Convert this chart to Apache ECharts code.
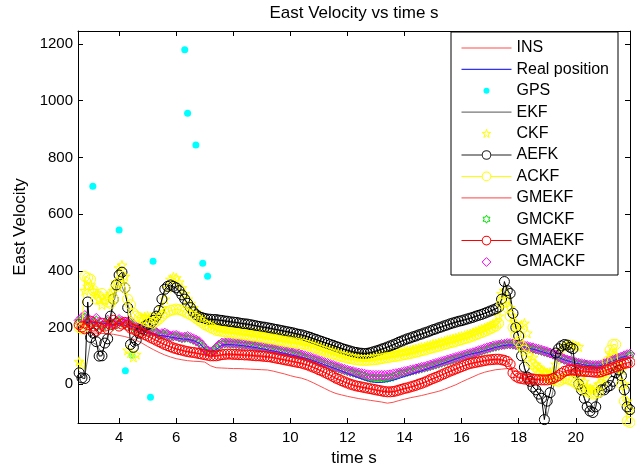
<!DOCTYPE html>
<html><head><meta charset="utf-8">
<script src="https://cdn.jsdelivr.net/npm/echarts@6/dist/echarts.min.js"></script>
<style>html,body{margin:0;padding:0;background:#fff}#c{width:635px;height:465px}</style>
</head><body><div id="c"></div>
<script>
// ---- data ----
// fine time base (0.1 s) for the marker series
const time = [2.6,2.7,2.8,2.9,
  3.0,3.1,3.2,3.3,3.4,3.5,3.6,3.7,3.8,3.9,
  4.0,4.1,4.2,4.3,4.4,4.5,4.6,4.7,4.8,4.9,
  5.0,5.1,5.2,5.3,5.4,5.5,5.6,5.7,5.8,5.9,
  6.0,6.1,6.2,6.3,6.4,6.5,6.6,6.7,6.8,6.9,
  7.0,7.1,7.2,7.3,7.4,7.5,7.6,7.7,7.8,7.9,
  8.0,8.1,8.2,8.3,8.4,8.5,8.6,8.7,8.8,8.9,
  9.0,9.1,9.2,9.3,9.4,9.5,9.6,9.7,9.8,9.9,
  10.0,10.1,10.2,10.3,10.4,10.5,10.6,10.7,10.8,10.9,
  11.0,11.1,11.2,11.3,11.4,11.5,11.6,11.7,11.8,11.9,
  12.0,12.1,12.2,12.3,12.4,12.5,12.6,12.7,12.8,12.9,
  13.0,13.1,13.2,13.3,13.4,13.5,13.6,13.7,13.8,13.9,
  14.0,14.1,14.2,14.3,14.4,14.5,14.6,14.7,14.8,14.9,
  15.0,15.1,15.2,15.3,15.4,15.5,15.6,15.7,15.8,15.9,
  16.0,16.1,16.2,16.3,16.4,16.5,16.6,16.7,16.8,16.9,
  17.0,17.1,17.2,17.3,17.4,17.5,17.6,17.7,17.8,17.9,
  18.0,18.1,18.2,18.3,18.4,18.5,18.6,18.7,18.8,18.9,
  19.0,19.1,19.2,19.3,19.4,19.5,19.6,19.7,19.8,19.9,
  20.0,20.1,20.2,20.3,20.4,20.5,20.6,20.7,20.8,20.9,
  21.0,21.1,21.2,21.3,21.4,21.5,21.6,21.7,21.8,21.9];
// coarse time base (0.2 s) for the plain line series
const timeCoarse = [2.6,2.8,3.0,3.2,3.4,3.6,3.8,4.0,4.2,4.4,
  4.6,4.8,5.0,5.2,5.4,5.6,5.8,6.0,6.2,6.4,
  6.6,6.8,7.0,7.2,7.4,7.6,7.8,8.0,8.2,8.4,
  8.6,8.8,9.0,9.2,9.4,9.6,9.8,10.0,10.2,10.4,
  10.6,10.8,11.0,11.2,11.4,11.6,11.8,12.0,12.2,12.4,
  12.6,12.8,13.0,13.2,13.4,13.6,13.8,14.0,14.2,14.4,
  14.6,14.8,15.0,15.2,15.4,15.6,15.8,16.0,16.2,16.4,
  16.6,16.8,17.0,17.2,17.4,17.6,17.8,18.0,18.2,18.4,
  18.6,18.8,19.0,19.2,19.4,19.6,19.8,20.0,20.2,20.4,
  20.6,20.8,21.0,21.2,21.4,21.6,21.8];
const ins = [185,183,181,180,179,178,176,172,168,162,
  155,145,133,122,112,103,96,90,86,83,
  81,80,78,65,58,57,56,55,55,54,
  53,52,51,50,46,41,36,30,25,21,
  14,5,-5,-15,-25,-33,-38,-43,-47,-51,
  -54,-57,-60,-63,-67,-64,-58,-53,-48,-44,
  -40,-35,-30,-25,-18,-10,-2,8,17,26,
  35,42,47,51,53,55,50,45,40,38,
  35,32,30,28,28,30,32,30,28,27,
  28,32,38,45,52,58,62];
const realPosition = [218,220,215,218,212,215,210,214,208,205,
  198,190,182,178,172,170,166,163,160,158,
  154,145,125,115,122,138,140,139,137,135,
  132,129,125,121,117,113,108,104,99,94,
  90,83,76,68,61,54,46,38,30,22,
  15,9,6,6,9,14,20,27,34,41,
  47,54,61,68,75,82,89,96,103,108,
  112,118,124,130,135,138,138,135,131,126,
  121,115,109,102,94,86,80,74,70,66,
  64,64,70,78,86,94,100];
const ekf = [45,30,150,140,110,170,280,370,320,250,
  160,195,212,228,262,330,345,338,312,283,
  254,237,231,228,227,224,221,218,215,212,
  209,205,201,198,194,190,186,182,177,173,
  167,160,153,146,139,132,125,119,113,109,
  107,110,116,123,130,138,147,155,162,169,
  176,183,191,198,205,212,218,223,229,235,
  242,249,257,265,295,350,245,165,55,5,
  -20,-45,-110,-25,120,135,125,40,-20,-75,
  -90,-30,-15,-5,35,30,-75];
const gmekf = [205,198,215,192,210,198,218,206,212,200,
  188,178,168,158,148,138,130,123,118,113,
  110,106,102,98,98,102,104,103,102,101,
  100,98,97,95,92,88,84,80,76,72,
  66,58,49,40,30,19,10,2,-5,-10,
  -14,-18,-22,-26,-29,-28,-23,-17,-12,-6,
  1,9,18,26,35,44,52,60,68,73,
  77,81,84,86,84,78,35,25,22,20,
  18,17,17,20,28,40,45,46,44,42,
  40,40,45,52,58,65,70];
const aefk = [40,22,20,290,
  165,180,150,99,100,145,160,240,300,350,
  385,395,340,270,140,130,155,180,195,205,
  210,215,225,240,260,300,335,345,350,345,
  340,330,315,300,285,270,255,245,238,235,
  232,230,229,228,228,226,225,223,222,220,
  219,218,216,214,213,212,210,208,206,204,
  202,201,199,197,195,193,191,189,187,185,
  183,181,178,176,174,171,168,165,161,158,
  154,151,147,144,140,137,133,130,126,123,
  120,117,114,112,110,109,108,109,111,114,
  117,120,124,127,131,135,139,143,148,152,
  156,160,163,167,170,174,177,181,184,188,
  192,195,199,202,206,209,213,216,219,222,
  224,227,230,233,236,240,243,246,250,254,
  258,262,266,272,300,362,330,320,250,200,
  170,100,60,25,10,-10,-20,-35,-50,-125,
  -60,-30,20,110,125,135,140,138,130,125,
  40,0,-20,-50,-80,-95,-100,-80,-30,-20,
  -20,-10,-5,10,40,50,30,-20,-80,-90];
const ackf = [200,195,380,375,
  370,330,300,310,320,300,290,285,300,345,
  360,380,340,300,280,250,240,235,230,225,
  220,218,215,222,230,240,250,255,260,262,
  265,263,260,255,250,245,240,232,225,218,
  210,205,200,195,190,188,186,185,183,182,
  180,179,178,176,175,173,172,170,169,167,
  166,164,162,160,159,157,155,153,151,150,
  148,146,145,143,142,140,137,134,130,127,
  123,120,116,113,109,106,103,100,97,95,
  92,90,88,86,85,84,84,84,85,86,
  87,88,90,92,94,95,97,98,100,102,
  104,106,108,110,113,115,118,120,123,126,
  129,131,134,137,140,143,146,148,151,154,
  157,160,163,166,170,174,178,182,186,190,
  195,200,205,215,285,290,270,240,200,175,
  150,135,120,100,80,70,60,50,40,30,
  25,20,15,12,10,15,20,18,15,10,
  5,-5,-10,-20,-25,-30,-35,-32,-30,0,
  30,80,120,140,140,60,0,-60,-130,-135];
const ckf = [80,70,330,345,
  350,330,320,300,280,295,310,320,330,360,
  410,420,380,120,110,95,105,210,230,238,
  240,238,235,242,250,270,300,340,370,378,
  375,360,340,320,300,285,270,255,240,232,
  225,218,212,208,203,200,198,197,195,194,
  192,191,190,188,187,185,184,182,181,179,
  178,176,174,172,171,169,167,165,163,162,
  160,158,157,155,154,152,149,146,142,139,
  135,132,128,125,121,118,115,112,109,106,
  104,102,100,98,97,96,96,96,97,98,
  99,100,102,104,106,107,109,110,112,114,
  116,118,120,122,125,127,130,132,135,138,
  141,143,146,149,152,155,158,160,163,166,
  169,172,175,178,182,186,190,194,198,202,
  207,212,217,240,320,330,300,270,240,215,
  200,208,215,180,120,95,70,60,50,45,
  40,42,45,70,100,120,135,138,140,138,
  135,132,30,10,-10,-15,-20,-10,0,20,
  40,80,110,105,100,75,50,0,-60,-90];
const gmckf = [220,228,236,222,
  208,218,226,212,200,210,222,214,205,215,
  224,218,210,214,218,205,196,194,190,186,
  182,184,186,180,172,174,176,171,167,168,
  169,165,162,163,164,160,156,151,146,135,
  122,115,110,116,125,135,142,143,143,142,
  142,141,140,139,138,137,135,134,132,130,
  128,127,125,123,121,119,117,115,113,111,
  109,107,104,102,99,96,93,90,86,83,
  79,76,72,69,65,62,58,55,51,48,
  45,42,40,37,35,31,27,24,22,21,
  20,20,20,21,22,24,26,30,35,38,
  40,43,45,48,50,53,55,58,60,63,
  66,69,72,75,78,81,84,87,90,93,
  96,99,102,105,107,110,114,117,121,124,
  127,130,132,135,137,139,140,140,139,137,
  135,134,132,130,127,125,122,120,117,114,
  111,108,104,100,95,90,86,83,80,77,
  74,72,70,68,66,65,64,64,64,66,
  70,74,78,82,86,90,94,98,101,103];
const gmaekf = [210,202,195,210,
  222,205,188,200,215,205,195,210,225,215,
  205,212,218,208,198,194,190,185,180,175,
  170,165,160,155,150,145,140,136,132,128,
  125,122,120,117,115,113,112,110,108,106,
  104,102,100,100,100,102,104,105,106,106,
  105,105,104,104,103,103,102,101,100,100,
  99,98,97,96,94,92,90,88,86,84,
  82,80,78,76,74,71,68,64,60,56,
  51,47,42,37,32,27,21,17,12,8,
  4,0,-3,-6,-8,-10,-12,-14,-16,-18,
  -20,-22,-24,-26,-27,-27,-26,-24,-21,-18,
  -15,-13,-10,-7,-4,0,3,7,11,16,
  20,24,28,33,37,42,46,50,54,58,
  62,66,70,73,75,77,79,81,83,85,
  86,87,88,88,86,84,80,70,40,28,
  22,20,18,18,18,17,16,16,15,15,
  15,17,20,25,30,38,45,48,50,50,
  50,49,47,46,45,44,43,42,42,44,
  48,51,55,58,62,66,70,73,75,77];
const gmackf = [225,235,242,228,
  212,222,232,218,205,215,226,218,210,220,
  228,222,215,218,222,210,200,198,195,190,
  185,188,190,183,175,178,180,175,170,171,
  172,168,165,166,168,164,160,155,150,138,
  125,118,112,118,128,138,145,146,146,145,
  145,144,143,142,141,140,138,137,135,133,
  131,130,128,126,124,122,120,118,116,114,
  112,110,108,106,103,100,97,94,90,87,
  83,80,76,73,69,66,62,59,55,52,
  49,46,44,41,39,37,35,33,32,31,
  31,31,31,31,32,33,35,37,39,41,
  44,46,49,51,54,56,59,61,64,67,
  70,73,76,79,82,85,88,91,94,97,
  100,103,106,108,111,114,118,121,125,128,
  131,134,136,138,140,141,143,143,142,140,
  138,137,135,133,130,128,125,123,120,117,
  114,110,107,103,98,93,88,85,82,79,
  76,74,72,70,68,67,66,66,66,68,
  72,76,80,84,88,92,96,100,104,106];
const gpsTime = [3.08,4.0,4.22,4.45,5.1,5.19,6.3,6.4,6.69,6.93,7.1];
const gpsValue = [698,544,47,102,-46,434,1180,956,844,427,381];
const xTicks = [4,6,8,10,12,14,16,18,20];
const yTicks = [0,200,400,600,800,1000,1200];
const seriesNames = ['INS','Real position','GPS','EKF','CKF','AEFK','ACKF','GMEKF','GMCKF','GMAEKF','GMACKF'];

// ---- styling helpers ----
const FONT = '"Liberation Sans", Arial, Helvetica, sans-serif';
const pairFine = arr => time.map((t, i) => [t, arr[i]]);
const pairCoarse = arr => timeCoarse.map((t, i) => [t, arr[i]]);
const starPts = [[50,0],[61.23,34.55],[97.55,34.55],[68.17,55.9],[79.39,90.45],[50,69.1],[20.61,90.45],[31.83,55.9],[2.45,34.55],[38.77,34.55]];
const hexPts = [[50,0],[64.43,25],[93.3,25],[78.87,50],[93.3,75],[64.43,75],[50,100],[35.57,75],[6.7,75],[21.13,50],[6.7,25],[35.57,25]];
function polyPath(pts, s, cx, cy) {
  return pts.map((p, i) => (i ? 'L' : 'M') + ((p[0]-50)*s+cx).toFixed(2) + ',' + ((p[1]-50)*s+cy).toFixed(2)).join('') + 'Z';
}
const BOX = 'M0,0M250,60';
const iconLine = 'path://' + BOX + 'M0,27H250V33H0Z';
const iconLineCircle = 'path://' + BOX + 'M0,27.5H102V32.5H0ZM148,27.5H250V32.5H148Z' +
  'M149,30A24,24 0 1,1 101,30A24,24 0 1,1 149,30Z' +
  'M144,30A19,19 0 1,0 106,30A19,19 0 1,0 144,30Z';
const iconDot = 'path://' + BOX + 'M140,30A15,15 0 1,1 110,30A15,15 0 1,1 140,30Z';
const iconStar = 'path://' + BOX + polyPath(starPts, 0.45, 125, 31);
const iconHex = 'path://' + BOX + polyPath(hexPts, 0.40, 125, 30);
const iconDiamond = 'path://' + BOX + 'M125,8L147,30L125,52L103,30Z';
const symStar = 'path://' + polyPath(starPts, 1, 50, 50);
const symHex = 'path://' + polyPath(hexPts, 1, 50, 50);
const NONE = 'rgba(0,0,0,0)';

const C = {
  ins: '#ff4d4d', real: '#2020ff', gps: '#00ffff', ekf: '#777777', ckf: '#ffff00',
  aefk: '#000000', ackf: '#ffff00', gmekf: '#ff6a6a', gmckf: '#00dd00', gmaekf: '#ff0000', gmackf: '#ff00ff'
};

function plainLine(name, data, color) {
  return { name, type: 'line', data: pairCoarse(data), symbol: 'none', silent: true,
    lineStyle: { color, width: 1 }, itemStyle: { color }, emphasis: { disabled: true } };
}
function circleLine(name, data, color) {
  return { name, type: 'line', data: pairFine(data), symbol: 'circle', symbolSize: 10, showSymbol: true,
    showAllSymbol: true, silent: true, lineStyle: { color, width: 1 },
    itemStyle: { color: NONE, borderColor: color, borderWidth: 1 }, emphasis: { disabled: true } };
}
function markers(name, data, color, symbol, size) {
  return { name, type: 'scatter', data: pairFine(data), symbol, symbolSize: size, symbolKeepAspect: true, silent: true,
    itemStyle: { color: NONE, borderColor: color, borderWidth: 1, opacity: 1 }, emphasis: { disabled: true } };
}

const series = [
  plainLine('INS', ins, C.ins),
  plainLine('Real position', realPosition, C.real),
  { name: 'GPS', type: 'scatter', data: gpsTime.map((t, i) => [t, gpsValue[i]]), symbol: 'circle', symbolSize: 7,
    silent: true, itemStyle: { color: C.gps, borderWidth: 0, opacity: 1 }, emphasis: { disabled: true } },
  plainLine('EKF', ekf, C.ekf),
  markers('CKF', ckf, C.ckf, symStar, 10),
  circleLine('AEFK', aefk, C.aefk),
  circleLine('ACKF', ackf, C.ackf),
  plainLine('GMEKF', gmekf, C.gmekf),
  markers('GMCKF', gmckf, C.gmckf, symHex, 9),
  circleLine('GMAEKF', gmaekf, C.gmaekf),
  markers('GMACKF', gmackf, C.gmackf, 'diamond', 10)
];

const legendIcons = {
  'INS': [iconLine, C.ins, 'fill'], 'Real position': [iconLine, '#3030ff', 'fill'], 'GPS': [iconDot, C.gps, 'fill'],
  'EKF': [iconLine, C.ekf, 'fill'], 'CKF': [iconStar, C.ckf, 'stroke'], 'AEFK': [iconLineCircle, '#222222', 'fill'],
  'ACKF': [iconLineCircle, C.ackf, 'fill'], 'GMEKF': [iconLine, C.gmekf, 'fill'], 'GMCKF': [iconHex, C.gmckf, 'stroke'],
  'GMAEKF': [iconLineCircle, C.gmaekf, 'fill'], 'GMACKF': [iconDiamond, C.gmackf, 'stroke']
};
const legendData = seriesNames.map(n => {
  const [icon, color, mode] = legendIcons[n];
  return { name: n, icon,
    itemStyle: mode === 'fill' ? { color, borderWidth: 0, opacity: 1 } : { color: NONE, borderColor: color, borderWidth: 1, opacity: 1 } };
});

const axisCommon = {
  type: 'value', splitLine: { show: false },
  axisLine: { show: true, onZero: false, lineStyle: { color: '#000', width: 1 } },
  axisTick: { show: true, inside: true, length: 5, lineStyle: { color: '#000', width: 1 } }
};
const plainNum = v => String(v);

const option = {
  animation: false,
  backgroundColor: '#fff',
  textStyle: { fontFamily: FONT },
  grid: { left: 78, top: 31, right: 5, bottom: 42, containLabel: false, outerBoundsMode: 'none' },
  xAxis: [
    Object.assign({}, axisCommon, { position: 'bottom', min: 2.56, max: 21.9,
      axisTick: Object.assign({}, axisCommon.axisTick, { customValues: xTicks }),
      axisLabel: { customValues: xTicks, formatter: plainNum, color: '#000', fontSize: 15, margin: 7, fontFamily: FONT },
      name: 'time s', nameLocation: 'middle', nameGap: 25,
      nameTextStyle: { color: '#000', fontSize: 17, fontFamily: FONT } }),
    Object.assign({}, axisCommon, { position: 'top', min: 2.56, max: 21.9,
      axisTick: Object.assign({}, axisCommon.axisTick, { customValues: xTicks }),
      axisLabel: { show: false },
      name: 'East Velocity vs time s', nameLocation: 'middle', nameGap: 9,
      nameTextStyle: { color: '#000', fontSize: 17, fontFamily: FONT } })
  ],
  yAxis: [
    Object.assign({}, axisCommon, { position: 'left', min: -137, max: 1246,
      axisTick: Object.assign({}, axisCommon.axisTick, { customValues: yTicks }),
      axisLabel: { customValues: yTicks, formatter: plainNum, color: '#000', fontSize: 15, margin: 5, fontFamily: FONT },
      name: 'East Velocity', nameLocation: 'middle', nameGap: 45, nameRotate: 90,
      nameTextStyle: { color: '#000', fontSize: 17, fontFamily: FONT } }),
    Object.assign({}, axisCommon, { position: 'right', min: -137, max: 1246,
      axisTick: Object.assign({}, axisCommon.axisTick, { customValues: yTicks }),
      axisLabel: { show: false } })
  ],
  legend: {
    orient: 'vertical', left: 451, top: 32,
    padding: [8, 9, 5, 10], itemGap: 5.4, itemWidth: 50, itemHeight: 12, itemTextGap: 6,
    backgroundColor: '#fff', borderColor: '#000', borderWidth: 1, borderRadius: 0,
    selectedMode: false, data: legendData,
    textStyle: { color: '#000', fontSize: 16, lineHeight: 16, fontFamily: FONT }
  },
  series
};
const chart = echarts.init(document.getElementById('c'), null, { renderer: 'canvas' });
chart.setOption(option);
</script>
</body></html>
